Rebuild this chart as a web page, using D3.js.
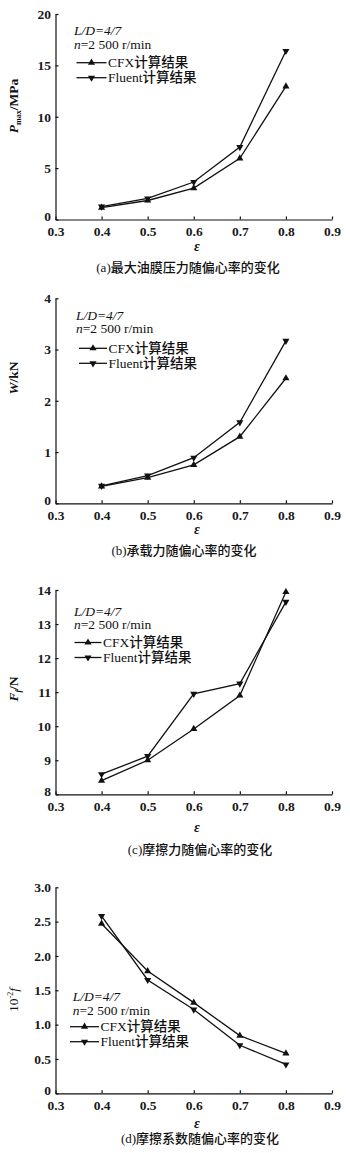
<!DOCTYPE html>
<html>
<head>
<meta charset="utf-8">
<script src="https://cdn.jsdelivr.net/npm/d3@7"></script>
<style>
  html, body { margin: 0; padding: 0; background: #fff; }
  svg { display: block; }
  .tick text { font-family: "Liberation Serif", "DejaVu Serif", serif; font-size: 13.5px; font-weight: bold; fill: #1a1a1a; }
  .domain, .tick line { stroke: #111; stroke-width: 1.2; }
</style>
</head>
<body>
<svg id="chart" width="350" height="1153"></svg>
<script>
// Eccentricity ratio values and x-axis ticks shared by all four panels
const eccentricity = [0.4, 0.5, 0.6, 0.7, 0.8];
const xTicks = [0.3, 0.4, 0.5, 0.6, 0.7, 0.8, 0.9];

// (a) maximum oil film pressure, MPa
const pmaxCFX    = [1.15, 1.85, 3.05, 5.95, 12.95];
const pmaxFluent = [1.25, 2.05, 3.65, 7.05, 16.4];
const pmaxTicks  = [0, 5, 10, 15, 20];

// (b) load capacity, kN
const loadCFX    = [0.33, 0.50, 0.75, 1.30, 2.44];
const loadFluent = [0.34, 0.54, 0.89, 1.58, 3.17];
const loadTicks  = [0, 1, 2, 3, 4];

// (c) friction force, N
const frictionCFX    = [8.40, 9.00, 9.92, 10.90, 13.94];
const frictionFluent = [8.59, 9.12, 10.95, 11.25, 13.65];
const frictionTicks  = [8, 9, 10, 11, 12, 13, 14];

// (d) friction coefficient, 10^-2
const coefCFX    = [2.47, 1.78, 1.32, 0.84, 0.58];
const coefFluent = [2.58, 1.65, 1.22, 0.70, 0.42];
const coefTicks  = [0, 0.5, 1.0, 1.5, 2.0, 2.5, 3.0];
const coefTickLabels = ["0", "0.5", "1.0", "1.5", "2.0", "2.5", "3.0"];

const seriesNames = ["CFX计算结果", "Fluent计算结果"];
const noteLines = ["L/D=4/7", "n=2 500 r/min"];

const serif = '"Liberation Serif", "DejaVu Serif", serif';
const cjk = '"Liberation Serif", "Noto Sans CJK SC", serif';

const svg = d3.select("#chart");
const x0 = 55.5, x1 = 332;

const panels = [
  { cfx: pmaxCFX, fluent: pmaxFluent, ticks: pmaxTicks, fmt: d => String(d),
    top: 14, bottom: 219.5, yLabel: "a", yLabelY: 106,
    note: { x: 74, y: 35 }, legend: { x: 76.5, y: 62.7, len: 30 },
    eps: 251, caption: "(a)最大油膜压力随偏心率的变化", capX: 188, capY: 272 },
  { cfx: loadCFX, fluent: loadFluent, ticks: loadTicks, fmt: d => String(d),
    top: 298.3, bottom: 503.3, yLabel: "b", yLabelY: 378,
    note: { x: 76, y: 319.5 }, legend: { x: 79, y: 348.3, len: 28 },
    eps: 534, caption: "(b)承载力随偏心率的变化", capX: 184, capY: 555 },
  { cfx: frictionCFX, fluent: frictionFluent, ticks: frictionTicks, fmt: d => String(d),
    top: 590, bottom: 794.3, yLabel: "c", yLabelY: 689,
    note: { x: 74, y: 615.5 }, legend: { x: 74.5, y: 642.5, len: 27 },
    eps: 832, caption: "(c)摩擦力随偏心率的变化", capX: 200, capY: 853.5 },
  { cfx: coefCFX, fluent: coefFluent, ticks: coefTicks, fmt: (d, i) => coefTickLabels[i],
    top: 887.3, bottom: 1093.3, yLabel: "d", yLabelY: 1000,
    note: { x: 72.7, y: 1001 }, legend: { x: 70, y: 1026.7, len: 29 },
    eps: 1128, caption: "(d)摩擦系数随偏心率的变化", capX: 200, capY: 1143 }
];

const x = d3.scaleLinear().domain([0.3, 0.9]).range([x0, x1]);
const triUp = d3.symbol().type(d3.symbolTriangle).size(22);

function marker(sel, cx, cy, down) {
  sel.append("path")
    .attr("d", triUp())
    .attr("transform", `translate(${cx},${cy}) rotate(${down ? 180 : 0})`)
    .attr("fill", "#111");
}

function yLabel(g, kind, cy) {
  const t = g.append("text")
    .attr("transform", `translate(18,${cy}) rotate(-90)`)
    .attr("text-anchor", "middle")
    .attr("font-family", serif)
    .attr("font-size", 13.5)
    .attr("fill", "#111");
  if (kind === "a") {
    t.attr("font-weight", "bold");
    t.append("tspan").attr("font-style", "italic").text("P");
    t.append("tspan").attr("font-size", 8).attr("dy", 3).text("max");
    t.append("tspan").attr("dy", -3).text("/MPa");
  } else if (kind === "b") {
    t.attr("font-weight", "bold");
    t.append("tspan").attr("font-style", "italic").text("W");
    t.append("tspan").text("/kN");
  } else if (kind === "c") {
    t.attr("font-weight", "bold");
    t.append("tspan").attr("font-style", "italic").text("F");
    t.append("tspan").attr("font-size", 8).attr("font-style", "italic").attr("dy", 3).text("f");
    t.append("tspan").attr("dy", -3).text("/N");
  } else {
    t.append("tspan").text("10");
    t.append("tspan").attr("font-size", 8).attr("dy", -5).text("-2");
    t.append("tspan").attr("dy", 5).attr("font-style", "italic").text("f");
  }
}

panels.forEach(p => {
  const g = svg.append("g");
  const y = d3.scaleLinear()
    .domain([p.ticks[0], p.ticks[p.ticks.length - 1]])
    .range([p.bottom, p.top]);

  const xAxis = g.append("g")
    .attr("transform", `translate(0,${p.bottom})`)
    .call(d3.axisBottom(x).tickValues(xTicks).tickFormat(d3.format(".1f"))
      .tickSize(-3).tickSizeOuter(0).tickPadding(7));

  const yAxis = g.append("g")
    .attr("transform", `translate(${x0},0)`)
    .call(d3.axisLeft(y).tickValues(p.ticks).tickFormat(p.fmt)
      .tickSize(-3).tickSizeOuter(0).tickPadding(4.5));
  // lift the origin label a touch so it clears the first x label
  yAxis.selectAll(".tick").filter((d, i) => i === 0).select("text").attr("dy", "0.1em");

  const line = d3.line().x((d, i) => x(eccentricity[i])).y(d => y(d));
  [p.cfx, p.fluent].forEach((vals, k) => {
    g.append("path").datum(vals)
      .attr("d", line)
      .attr("fill", "none")
      .attr("stroke", "#111")
      .attr("stroke-width", 1.3);
    vals.forEach((v, i) => marker(g, x(eccentricity[i]), y(v), k === 1));
  });

  // notes: bearing ratio and speed
  g.append("text")
    .attr("x", p.note.x).attr("y", p.note.y)
    .attr("font-family", serif).attr("font-size", 13.5).attr("fill", "#111")
    .attr("font-style", "italic").text(noteLines[0]);
  const n2 = g.append("text")
    .attr("x", p.note.x).attr("y", p.note.y + 13.5)
    .attr("font-family", serif).attr("font-size", 13.5).attr("fill", "#111");
  n2.append("tspan").attr("font-style", "italic").text("n");
  n2.append("tspan").text(noteLines[1].slice(1));

  // legend
  seriesNames.forEach((name, k) => {
    const ly = p.legend.y + k * 15;
    g.append("line")
      .attr("x1", p.legend.x).attr("x2", p.legend.x + p.legend.len)
      .attr("y1", ly).attr("y2", ly)
      .attr("stroke", "#111").attr("stroke-width", 1.3);
    marker(g, p.legend.x + p.legend.len / 2, ly, k === 1);
    g.append("text")
      .attr("x", p.legend.x + p.legend.len + 1.5).attr("y", ly + 4.5)
      .attr("font-family", cjk).attr("font-size", 13.5).attr("font-weight", 500)
      .attr("fill", "#111")
      .text(name);
  });

  yLabel(g, p.yLabel, p.yLabelY);

  g.append("text")
    .attr("x", (x0 + x1) / 2 + 3).attr("y", p.eps)
    .attr("text-anchor", "middle")
    .attr("font-family", serif).attr("font-size", 14).attr("font-style", "italic")
    .attr("font-weight", "bold").attr("fill", "#111")
    .text("ε");

  g.append("text")
    .attr("x", p.capX).attr("y", p.capY)
    .attr("text-anchor", "middle")
    .attr("font-family", cjk).attr("font-size", 13).attr("font-weight", 500)
    .attr("fill", "#111")
    .text(p.caption);
});
</script>
</body>
</html>
